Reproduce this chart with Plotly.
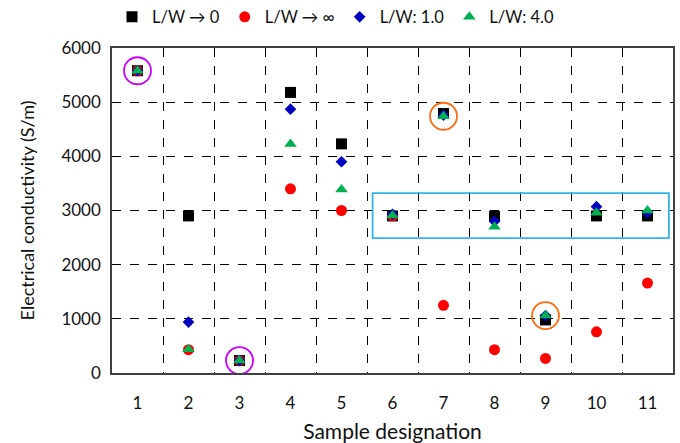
import plotly.graph_objects as go

samples = [1, 2, 3, 4, 5, 6, 7, 8, 9, 10, 11]
lw_zero = [5580, 2900, 230, 5180, 4230, 2900, 4790, 2890, 980, 2900, 2900]
lw_inf = [5580, 430, 230, 3400, 3000, 2900, 1250, 430, 270, 760, 1660]
lw_1 = [5580, 940, 230, 4870, 3900, 2930, 4760, 2800, 1060, 3070, 2960]
lw_4 = [5580, 440, 230, 4230, 3390, 2910, 4740, 2700, 1060, 2960, 3000]

series_names = ["L/W \u2192 0", "L/W \u2192 \u221e", "L/W: 1.0", "L/W: 4.0"]
series_colors = ["#000000", "#ff0000", "#0000c0", "#00b050"]
series_symbols = ["square", "circle", "diamond", "triangle-up"]
series_sizes = [11, 11, 9, 11]

magenta_samples = [1, 3]
orange_samples = [7, 9]
box_samples = [6, 11]
box_values = [2490, 3320]

y_ticks = [0, 1000, 2000, 3000, 4000, 5000, 6000]

font = "Lato, 'Open Sans', sans-serif"
fig = go.Figure()

for name, vals, col, sym, sz in zip(series_names, [lw_zero, lw_inf, lw_1, lw_4],
                                    series_colors, series_symbols, series_sizes):
    fig.add_trace(go.Scatter(x=samples, y=vals, mode="markers", name=name,
                             marker=dict(symbol=sym, color=col, size=sz, line=dict(width=0))))

def centers(sel):
    return [s for s in sel], [lw_4[samples.index(s)] for s in sel]

for sel, col in [(magenta_samples, "#cc00ff"), (orange_samples, "#ff6a10")]:
    xs, ys = centers(sel)
    fig.add_trace(go.Scatter(x=xs, y=ys, mode="markers", showlegend=False, hoverinfo="skip",
                             marker=dict(symbol="circle-open", size=27, color=col,
                                         line=dict(width=1.8, color=col))))

fig.add_shape(type="rect", xref="x", yref="y",
              x0=box_samples[0] - 0.39, x1=box_samples[1] + 0.42,
              y0=box_values[0], y1=box_values[1],
              line=dict(color="#33b5e8", width=1.8))

fig.update_layout(
    width=680, height=443,
    margin=dict(l=112, r=7, t=48, b=70, autoexpand=False),
    plot_bgcolor="white", paper_bgcolor="white",
    font=dict(family=font, size=17, color="#111111"),
    legend=dict(orientation="h", x=0.0, xanchor="left", y=1.095, yanchor="middle",
                font=dict(size=16.5), itemsizing="trace", itemwidth=30,
                bgcolor="rgba(0,0,0,0)", tracegroupgap=0),
    xaxis=dict(range=[0.5, 11.5], tickvals=samples, ticktext=[str(s) for s in samples],
               showgrid=False, zeroline=False, showline=True, linecolor="#404040",
               linewidth=1.5, mirror=True, ticks="", ticklabelstandoff=14,
               tickfont=dict(size=17),
               title=dict(text="Sample designation", font=dict(size=21), standoff=13),
               minor=dict(tickvals=[s + 0.5 for s in samples[:-1]], showgrid=True,
                          griddash="dash", gridcolor="#000000", gridwidth=1)),
    yaxis=dict(range=[0, 6000], tickvals=y_ticks, showgrid=True, griddash="dash",
               gridcolor="#000000", gridwidth=1, zeroline=False, showline=True,
               linecolor="#404040", linewidth=1.5, mirror=True, ticks="",
               ticklabelstandoff=6, tickfont=dict(size=17),
               title=dict(text="Electrical conductivity (S/m)", font=dict(size=18), standoff=22)),
)

fig.write_html("out.html")
